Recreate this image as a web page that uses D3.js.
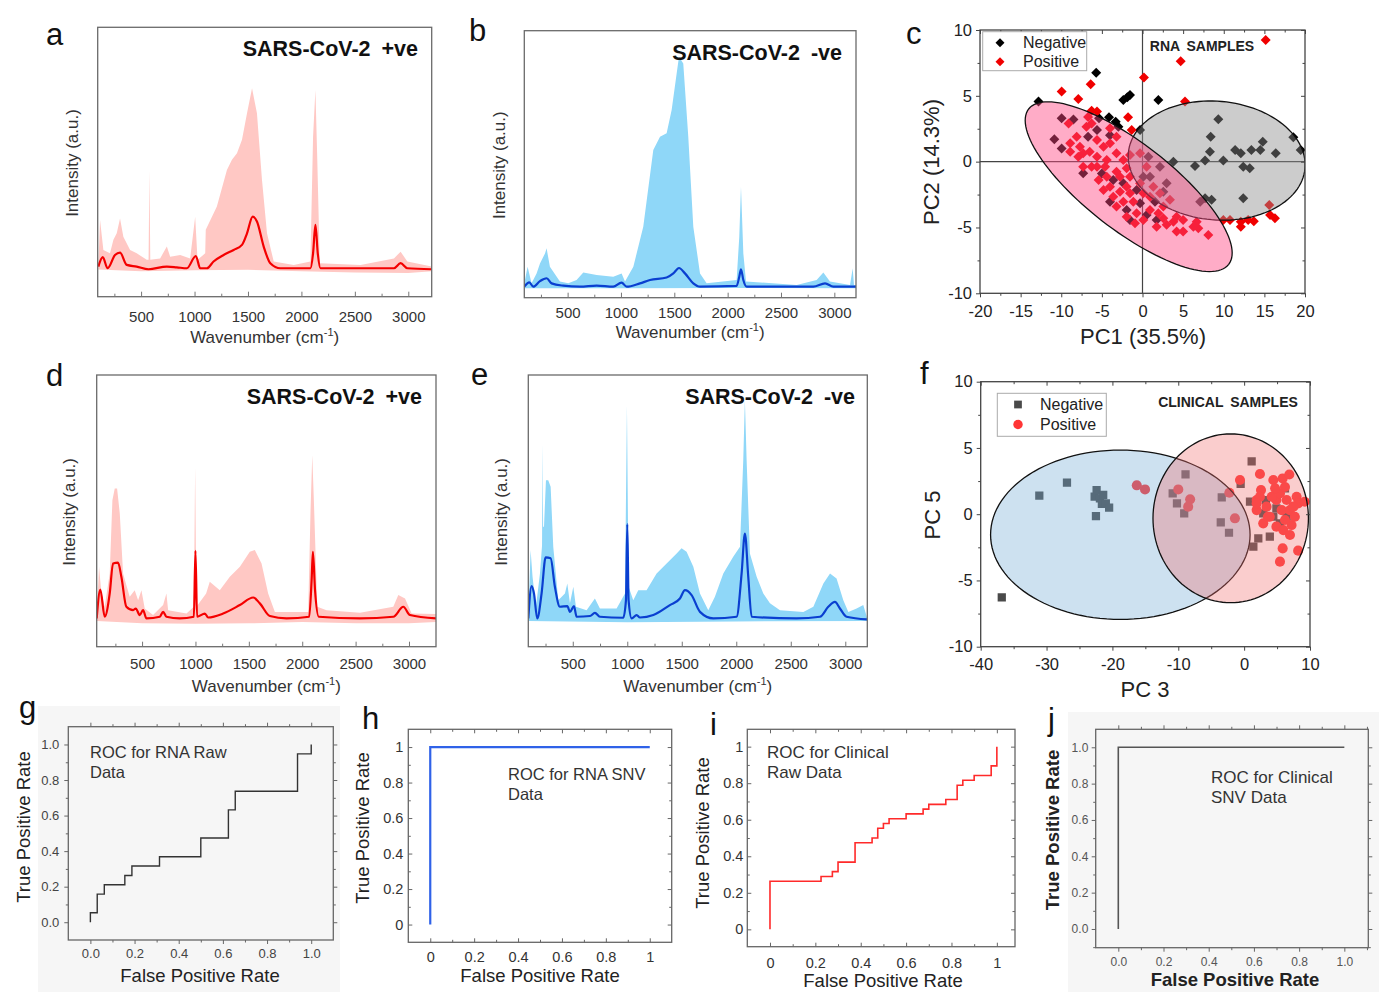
<!DOCTYPE html>
<html><head><meta charset="utf-8">
<script src="https://cdn.jsdelivr.net/npm/d3@7"></script>
<style>body{margin:0;background:#fff}svg{display:block}</style>
</head><body>
<svg id="fig" width="1379" height="992"></svg>
<script>
// ---------------- DATA ----------------
const wnTicks = [500, 1000, 1500, 2000, 2500, 3000];
const wnMinor = [250, 750, 1250, 1750, 2250, 2750];

// Panel a (RNA, SARS-CoV-2 +ve): [wavenumber, intensity]
const specA_mean = [[100,0.7],[141,4.6],[187,0],[256,5.5],[303,6.5],[366,1.4],[459,0.7],[569,-0.4],[741,0.7],[834,0.4],[928,0],[1012,5.1],[1053,0],[1116,0],[1178,2.8],[1272,5.5],[1366,7.6],[1444,9.7],[1491,14.5],[1544,21.4],[1584,19.4],[1647,9.0],[1709,2.1],[1803,0],[2084,0],[2109,6.2],[2131,18],[2153,6.2],[2178,0],[2866,0],[2928,2.1],[2991,0],[3219,-0.4]];
const specA_upper = [[100,0.7],[116,20],[147,7.6],[209,6.2],[241,11.8],[272,14.5],[303,20.7],[334,13.1],[397,7.6],[459,6.2],[553,3.5],[570,3.5],[578,40.8],[586,3.5],[678,4.1],[741,9.0],[772,4.8],[866,5.5],[959,4.1],[1006,21.4],[1028,3.5],[1100,6.2],[1105,16],[1209,25.6],[1303,40.8],[1350,45],[1397,47.7],[1444,53.3],[1491,64.3],[1538,74.7],[1584,64.3],[1631,36.7],[1678,14.5],[1741,2.8],[1928,1.4],[2084,2.8],[2109,54.6],[2131,74],[2147,47.7],[2172,2.1],[2553,1.4],[2866,4.1],[2928,6.9],[2991,2.8],[3219,0.7]];
const specA_lower = [[100,-0.5],[500,-1.2],[1000,-0.8],[1500,-0.6],[2000,-1.2],[2500,-1.8],[3000,-2],[3219,-1.2]];

// Panel b (RNA, SARS-CoV-2 -ve)
const specB_mean = [[94,0],[141,1.7],[178,0],[241,2.2],[303,3.3],[350,1.3],[459,0.4],[616,0],[772,0.4],[928,0],[1006,1.6],[1053,0],[1178,1.3],[1272,2.6],[1428,3.6],[1491,5.2],[1544,7.3],[1600,5.2],[1678,1.3],[1741,0],[2084,0.3],[2109,3.9],[2125,6.8],[2147,2.6],[2178,0],[2803,0],[2913,1.3],[2991,0],[3203,0]];
const specB_upper = [[94,1.3],[125,7.8],[162,1.3],[209,5.2],[241,9.1],[288,13],[303,15],[334,7.8],[428,2],[506,1.3],[584,2.6],[647,5.5],[772,4.6],[928,3.9],[1006,5.2],[1038,2],[1116,7.8],[1209,23.4],[1303,53.4],[1366,58.6],[1428,59.9],[1475,69],[1522,83.3],[1544,89.8],[1584,87.2],[1631,58.6],[1678,23.4],[1741,5.2],[1803,1.3],[2084,2.6],[2109,19.5],[2125,39],[2147,13],[2172,2],[2647,0.7],[2834,2.6],[2897,5.5],[2959,2],[3147,0.7],[3172,7.2],[3184,0.7],[3203,0.7]];
const specB_lower = [[94,-0.6],[1000,-0.6],[2000,-0.5],[3203,-0.6]];

// Panel d (clinical, SARS-CoV-2 +ve)
const specD_mean = [[75,0],[109,11.9],[150,0.7],[197,10.3],[228,22.6],[275,22.9],[306,17.1],[353,4.8],[416,3.4],[441,4.1],[478,1.4],[509,3.4],[541,0],[666,0.7],[697,2.7],[728,0.7],[853,0],[985,0.7],[1000,27.8],[1015,0.7],[1088,2],[1119,0.4],[1259,2],[1416,5.5],[1541,8.6],[1603,6.2],[1697,1],[1853,0],[2065,0.7],[2088,15.8],[2100,27.4],[2120,11.6],[2155,0.7],[2541,0],[2853,0.7],[2947,4.8],[3009,1.4],[3253,0]];
const specD_upper = [[75,0],[97,21.2],[119,10.3],[150,4.8],[197,18.5],[222,48.6],[244,53.4],[266,53.4],[291,43.2],[322,18.5],[384,8.9],[431,11.6],[463,7.5],[494,11.6],[525,4.1],[603,1.4],[697,5.5],[728,10.3],[744,3.4],[916,2],[985,4.8],[997,62.3],[1009,4.8],[1100,10.3],[1134,15.1],[1228,11.6],[1322,17.1],[1416,21.2],[1509,27.4],[1556,28.1],[1619,22.6],[1681,10.3],[1744,2.7],[2056,2.7],[2078,44.5],[2094,67.1],[2109,48.6],[2141,4.8],[2228,3.4],[2541,2.3],[2853,4.8],[2900,9.6],[2963,8.2],[3025,2],[3253,1.8]];
const specD_lower = [[75,-1],[500,-2],[1000,-2.2],[1500,-2],[2000,-1.5],[2500,-2],[3000,-2],[3253,-1.5]];

// Panel e (clinical, SARS-CoV-2 -ve)
const specE_mean = [[92,0],[122,13.3],[144,10.3],[174,0],[214,10.3],[251,25.1],[297,24.7],[336,13],[382,4.8],[450,5.1],[474,2.7],[511,5.1],[535,0.7],[658,1],[703,2.3],[749,0.7],[963,0.3],[988,7.5],[1000,38.8],[1012,7.5],[1040,0],[1086,1.4],[1116,0.4],[1239,1.4],[1391,5.5],[1483,8.2],[1529,11.6],[1590,9.6],[1667,2.7],[1789,0],[2003,0.7],[2049,18.5],[2079,34.9],[2110,17.1],[2141,0.7],[2553,0],[2768,0.7],[2844,4.8],[2905,6.8],[2951,4.1],[3012,0.7],[3202,-0.4]];
const specE_upper = [[92,0],[113,28.1],[131,17.1],[162,4.8],[199,18.5],[218,30],[223,71.9],[228,37.7],[236,37.7],[254,56.8],[275,56.8],[297,54.1],[321,29.5],[367,7.5],[428,10.3],[450,14.4],[474,6.2],[505,13],[529,4.8],[627,3.4],[703,8.2],[749,4.1],[902,4.1],[979,10.3],[997,87.7],[1012,13],[1055,7.5],[1101,11.6],[1177,11.6],[1269,18.5],[1361,22.6],[1453,26.7],[1498,28.8],[1544,27.4],[1606,21.2],[1667,10.3],[1743,3.4],[1804,8.9],[1881,18.5],[1972,25.3],[2034,29.5],[2064,65],[2079,89.7],[2095,65],[2125,26.7],[2187,17.1],[2248,10.3],[2309,6.2],[2401,3.4],[2615,2.7],[2707,4.8],[2799,14.4],[2860,18.5],[2920,16.4],[2982,7.5],[3028,2.7],[3104,4.1],[3165,5.5],[3202,0]];
const specE_lower = [[92,-1],[1000,-1.6],[2000,-1.2],[3202,-1]];

// Panel c: PCA, RNA samples [PC1, PC2]
const pcaC_xTicks = [-20,-15,-10,-5,0,5,10,15,20];
const pcaC_yTicks = [-10,-5,0,5,10];
const pcaC_negative = [[-12.8,4.56],[-5.7,6.76],[-2.36,4.68],[-1.87,4.89],[-1.54,5.06],[1.95,4.68],[-5.35,3.29],[-4.12,3.37],[-3.3,3.04],[-2.97,2.66],[-0.3,2.41],
 [3.8,0],[6.46,-0.33],[7.7,0.08],[8.39,1.9],[8.3,0.76],[9.33,3.22],[9.95,0.08],[11.4,0.89],[12.1,0.63],[12.4,-0.38],[13.4,0.89],[13.2,-0.5],[14.5,0.89],[14.8,1.52],[16.4,0.63],[18.56,1.85],[19.47,0.89],[7.7,-2.78],[8.5,-2.9],[12.4,-2.78],[7.1,-3.04],
 [-9.95,3.29],[-8.5,3.2],[-10.85,1.7],[-9.95,1.0],[-6.7,1.9],[-5.6,2.4],[-4.0,2.0],[-5.0,-0.9],[-3.6,-1.4],[-2.36,-1.65],[-4.0,-3.04],[-1.95,-3.67],[-0.72,-2.15],[-0.3,-3.16],[0.72,0.38],[0.92,-1.14],[2.15,-0.38],[2.97,-1.65],[2.56,-2.28],[1.54,-3.04],[0.51,-4.05],[1.74,-4.43],[-7.3,-0.89],[-1.54,-4.43],[0.1,-1.14]];
const pcaC_positive = [[-9.95,5.32],[-7.9,4.76],[-6.38,5.87],[-6.26,3.87],[-1.78,3.37],[-1.33,2.41],[0.18,6.4],[4.7,7.62],[5.23,4.56],[15.16,9.24],[9.95,-4.43],[10.77,-4.43],[12.1,-4.56],[12.1,-4.94],[13.7,-4.53],[15.6,-3.3],[15.7,-4.05],[16.3,-4.3],[13.0,-4.43],
 [-9.1,2.9],[-8.1,1.9],[-8.9,1.4],[-7.7,1.14],[-6.9,2.66],[-6.26,2.9],[-5.6,1.65],[-7.3,0.63],[-7.9,0.38],[-6.5,0.76],[-5.6,0.38],[-4.8,1.14],[-4.0,1.4],[-7.3,-0.38],[-6.26,-0.38],[-4.4,0.13],[-3.2,0.63],[-2.36,0.13],[-1.95,-0.5],[-5.4,-1.4],[-4.4,-1.14],[-3.2,-0.76],[-1.54,-1.14],[-4.0,-1.9],[-2.77,-2.28],[-1.54,-2.4],[-3.6,-2.66],[-2.36,-3.04],[-1.13,-3.04],[-3.2,-3.4],[-1.95,-4.18],[-0.72,-3.92],[0.1,-4.43],[0.92,-3.67],[1.95,-3.92],[2.56,-4.3],[2.97,-4.8],[3.8,-4.56],[4.2,-5.3],[5.0,-5.3],[5.0,-4.43],[6.26,-4.94],[6.67,-4.56],[6.87,-5.06],[8.1,-5.57],[-1.54,0.5],[-0.3,0.63],[0.51,-0.38],[1.33,-1.9],[2.15,-2.4],[3.38,-2.9],[0.92,-2.66],[0.1,-2.4],[-0.3,-1.65],[-4.8,-2.15],[-5.6,-0.38],[-8.9,0.76],[-6.7,3.4],[-5.6,3.8],[-4.0,2.53],[-3.2,1.9],[-4.6,-0.38],[-2.77,-1.14],[-1.95,-1.9],[1.74,-4.94],[-0.92,-4.68],[2.56,-3.4],[4.2,-4.18]];
// confidence ellipses: [cx, cy, ux, uy, vx, vy] (centre + semi-axis vectors, data units)
const pcaC_ellNegative = [9.13, 0.08, 10.87, -0.59, 0.64, 4.49];
const pcaC_ellPositive = [-1.7, -1.9, 12.31, -5.90, 3.27, 2.60];

// Panel f: PCA, clinical samples [PC3, PC5]
const pcaF_xTicks = [-40,-30,-20,-10,0,10];
const pcaF_yTicks = [-10,-5,0,5,10];
const pcaF_negative = [[-36.8,-6.28],[-31.1,1.4],[-26.9,2.38],[-22.4,1.82],[-22.7,1.32],[-21.9,1.19],[-21.6,0.77],[-21.0,0.82],[-20.5,0.49],[-22.5,-0.14],[-21.4,1.45],[-8.9,3.0],[-10.85,1.57],[-10.2,0.82],[-9.1,0.06],[-3.4,1.27],[-3.55,-0.62],[-2.3,-1.4],[-0.53,2.28],[1.14,3.99],[0.89,0.94],[1.4,-2.45],[2.15,-1.82],[3.9,-1.7],[3.3,1.07],[4.9,0.44],[6.2,1.95],[5.44,-0.69],[4.43,-0.19],[6.46,-0.19],[2.9,0.06]];
const pcaF_positive = [[-16.3,2.18],[-15.05,1.87],[-10.0,1.87],[-8.2,1.12],[-8.5,0.57],[-1.4,-0.31],[-2.25,1.62],[-0.63,2.58],[2.4,3.03],[2.56,1.82],[4.43,2.58],[5.85,2.7],[6.86,3.0],[1.9,1.07],[3.4,0.57],[1.9,0.31],[2.9,-0.69],[3.9,-0.19],[4.9,1.07],[5.44,1.57],[6.46,1.07],[5.7,0.31],[6.96,0.31],[4.9,-0.94],[5.95,-1.2],[7.2,-0.82],[7.7,-0.19],[7.97,1.32],[8.2,0.82],[9.2,0.94],[6.96,-1.57],[5.85,-2.58],[5.44,-3.58],[8.2,-2.75],[4.18,1.32],[2.4,1.32],[6.2,2.05],[4.7,1.95],[3.6,-0.19],[6.2,-0.44],[7.47,0.57],[1.9,0.82]];
const pcaF_ellNegative = [-18.8, -1.55, 19.7, 0, 0, 6.39];
const pcaF_ellPositive = [-2.04, -0.31, 11.8, 0, 0, 6.37];

// ROC curves [FPR, TPR]
const rocTicks = [0, 0.2, 0.4, 0.6, 0.8, 1.0];
const rocMinor = [-0.1, 0.1, 0.3, 0.5, 0.7, 0.9, 1.1];
const rocG = [[0,0],[0,0.053],[0.031,0.158],[0.063,0.211],[0.156,0.263],[0.188,0.316],[0.313,0.368],[0.5,0.474],[0.625,0.632],[0.656,0.737],[0.938,0.947],[1,1]];
const rocH = [[0,0],[0,1],[1,1]];
const rocI = [[0,0],[0,0.263],[0.225,0.289],[0.275,0.316],[0.3,0.368],[0.375,0.474],[0.45,0.5],[0.475,0.553],[0.5,0.579],[0.525,0.605],[0.6,0.632],[0.675,0.658],[0.7,0.684],[0.775,0.711],[0.825,0.789],[0.85,0.816],[0.9,0.842],[0.975,0.895],[1,1]];
const rocJ = [[0,0],[0,1],[1,1]];

// ---------------- DRAWING ----------------
const FONT = "Arial, 'Liberation Sans', Helvetica, sans-serif";
const svg = d3.select("#fig").attr("font-family", FONT);
const defs = svg.append("defs");
const intFmt = v => String(v);   // plain hyphen-minus like the reference

function ax(g, orient, scale, vals, tx, ty, o) {
  const mk = {b: d3.axisBottom, l: d3.axisLeft, t: d3.axisTop, r: d3.axisRight}[orient];
  const gen = mk(scale).tickValues(vals).tickSize(o.size || 0).tickPadding(o.pad || 0).tickFormat(o.fmt || "");
  const a = g.append("g").attr("transform", `translate(${tx},${ty})`).call(gen);
  a.select(".domain").remove();
  a.attr("font-family", FONT);
  a.selectAll(".tick line").attr("stroke", o.tc || "#555").attr("stroke-width", o.sw || 1);
  a.selectAll(".tick text").attr("font-size", o.fs || 14).attr("fill", o.color || "#222")
    .attr("font-weight", o.weight || "normal").attr("font-family", FONT);
  return a;
}
function letter(t, x, y) {
  svg.append("text").attr("x", x).attr("y", y).attr("font-size", 31).attr("fill", "#111").text(t);
}
function clipRect(id, x0, y0, x1, y1) {
  defs.append("clipPath").attr("id", id).append("rect").attr("x", x0).attr("y", y0).attr("width", x1 - x0).attr("height", y1 - y0);
  return `url(#${id})`;
}

function spectrum(p) {
  const x = d3.scaleLinear().domain(p.xDom).range([p.x0, p.x1]);
  const y = d3.scaleLinear().domain(p.yDom).range([p.y1, p.y0]);
  const g = svg.append("g");
  const inner = g.append("g").attr("clip-path", clipRect("clip" + p.id, p.x0, p.y0, p.x1, p.y1));
  const lin = d3.line().x(d => x(d[0])).y(d => y(d[1]));
  inner.append("path").attr("d", lin(p.upper.concat(p.lower.slice().reverse())) + "Z").attr("fill", p.fill);
  const smooth = d3.line().curve(d3.curveMonotoneX).x(d => x(d[0])).y(d => y(d[1]));
  inner.append("path").attr("d", smooth(p.mean)).attr("fill", "none").attr("stroke", p.line).attr("stroke-width", 2.2).attr("stroke-linejoin", "round");
  g.append("rect").attr("x", p.x0).attr("y", p.y0).attr("width", p.x1 - p.x0).attr("height", p.y1 - p.y0)
    .attr("fill", "none").attr("stroke", "#6a6a6a").attr("stroke-width", 1.3);
  ax(g, "b", x, wnTicks, 0, p.y1, {size: -5, pad: p.pad, fmt: intFmt, fs: 15, color: "#333", tc: "#777"});
  ax(g, "b", x, wnMinor.filter(v => v > p.xDom[0] && v < p.xDom[1]), 0, p.y1, {size: -3, tc: "#777"});
  g.append("text").attr("x", p.tx).attr("y", p.ty).attr("text-anchor", "end").attr("font-weight", "bold")
    .attr("font-size", 21.5).attr("word-spacing", 5).attr("fill", "#111").text(p.title);
  g.append("text").attr("transform", `translate(${p.ylx},${(p.y0 + p.y1) / 2 + 1}) rotate(-90)`).attr("text-anchor", "middle")
    .attr("font-size", 17).attr("fill", "#333").text("Intensity (a.u.)");
  const xt = g.append("text").attr("x", (p.x0 + p.x1) / 2).attr("y", p.xly).attr("text-anchor", "middle").attr("font-size", 17).attr("fill", "#333");
  xt.append("tspan").text("Wavenumber (cm");
  xt.append("tspan").attr("font-size", 11).attr("dy", -7).text("-1");
  xt.append("tspan").attr("dy", 7).text(")");
  letter(p.lab, p.lx, p.ly);
}

spectrum({id: "a", x0: 97.7, x1: 431.7, y0: 27.3, y1: 296.7, xDom: [94, 3219], yDom: [-11.8, 100],
  upper: specA_upper, lower: specA_lower, mean: specA_mean, fill: "#ffc8c4", line: "#f40000",
  title: "SARS-CoV-2 +ve", tx: 418, ty: 56, ylx: 78, xly: 343, pad: 14.5, lab: "a", lx: 46, ly: 45});
spectrum({id: "b", x0: 524.3, x1: 856, y0: 30.7, y1: 297.7, xDom: [94, 3203], yDom: [-4.3, 100],
  upper: specB_upper, lower: specB_lower, mean: specB_mean, fill: "#8fd7f8", line: "#0a3fd0",
  title: "SARS-CoV-2 -ve", tx: 842, ty: 60, ylx: 505, xly: 338, pad: 10, lab: "b", lx: 469, ly: 41});
spectrum({id: "d", x0: 96.7, x1: 436, y0: 375, y1: 646.7, xDom: [75, 3253], yDom: [-11.6, 100],
  upper: specD_upper, lower: specD_lower, mean: specD_mean, fill: "#ffc8c4", line: "#f40000",
  title: "SARS-CoV-2 +ve", tx: 422, ty: 404, ylx: 75, xly: 692, pad: 11.7, lab: "d", lx: 46, ly: 386});
spectrum({id: "e", x0: 528.3, x1: 867.3, y0: 375, y1: 646.7, xDom: [92, 3202], yDom: [-11.6, 100],
  upper: specE_upper, lower: specE_lower, mean: specE_mean, fill: "#8fd7f8", line: "#0a3fd0",
  title: "SARS-CoV-2 -ve", tx: 855, ty: 404, ylx: 507, xly: 692, pad: 11.7, lab: "e", lx: 471, ly: 385});

function ellipsePts(e) {
  return d3.range(120).map(i => { const t = 2 * Math.PI * i / 120;
    return [e[0] + Math.cos(t) * e[2] + Math.sin(t) * e[4], e[1] + Math.cos(t) * e[3] + Math.sin(t) * e[5]]; });
}

function pca(p) {
  const x = d3.scaleLinear().domain(p.xDom).range([p.x0, p.x1]);
  const y = d3.scaleLinear().domain(p.yDom).range([p.y1, p.y0]);
  const g = svg.append("g");
  const inner = g.append("g").attr("clip-path", clipRect("clip" + p.id, p.x0, p.y0, p.x1, p.y1));
  if (p.zero) {
    inner.append("line").attr("x1", x(0)).attr("x2", x(0)).attr("y1", p.y0).attr("y2", p.y1).attr("stroke", "#444").attr("stroke-width", 1.2);
    inner.append("line").attr("y1", y(0)).attr("y2", y(0)).attr("x1", p.x0).attr("x2", p.x1).attr("stroke", "#444").attr("stroke-width", 1.2);
  }
  const sym = (type, size) => d3.symbol().type(type).size(size)();
  inner.selectAll(".neg").data(p.neg).join("path").attr("d", sym(p.negSym, p.negSize))
    .attr("transform", d => `translate(${x(d[0])},${y(d[1])})${p.rot ? " rotate(45)" : ""}`).attr("fill", p.negColor);
  inner.selectAll(".pos").data(p.pos).join("path").attr("d", sym(p.posSym, p.posSize))
    .attr("transform", d => `translate(${x(d[0])},${y(d[1])})${p.rot ? " rotate(45)" : ""}`).attr("fill", p.posColor);
  const el = d3.line().curve(d3.curveLinearClosed).x(d => x(d[0])).y(d => y(d[1]));
  inner.append("path").attr("d", el(ellipsePts(p.ellNeg))).attr("fill", p.ellNegFill).attr("fill-opacity", p.op)
    .attr("stroke", "#111").attr("stroke-width", 1.3);
  inner.append("path").attr("d", el(ellipsePts(p.ellPos))).attr("fill", p.ellPosFill).attr("fill-opacity", p.op)
    .attr("stroke", "#111").attr("stroke-width", 1.3);
  g.append("rect").attr("x", p.x0).attr("y", p.y0).attr("width", p.x1 - p.x0).attr("height", p.y1 - p.y0)
    .attr("fill", "none").attr("stroke", "#444").attr("stroke-width", 1.3);
  ax(g, "b", x, p.xTicks, 0, p.y1, {size: 4, pad: p.padB, fmt: intFmt, fs: 16.5, color: "#222", tc: "#444"});
  ax(g, "b", x, p.xMinor, 0, p.y1, {size: 2.5, tc: "#444"});
  ax(g, "t", x, p.xTicks, 0, p.y0, {size: -4, tc: "#444"});
  ax(g, "t", x, p.xMinor, 0, p.y0, {size: -2.5, tc: "#444"});
  ax(g, "l", y, p.yTicks, p.x0, 0, {size: 4, pad: p.padL, fmt: intFmt, fs: 16.5, color: "#222", tc: "#444"});
  ax(g, "l", y, p.yMinor, p.x0, 0, {size: 2.5, tc: "#444"});
  ax(g, "r", y, p.yTicks, p.x1, 0, {size: -4, tc: "#444"});
  ax(g, "r", y, p.yMinor, p.x1, 0, {size: -2.5, tc: "#444"});
  g.append("text").attr("x", p.xlx).attr("y", p.xly).attr("text-anchor", "middle").attr("font-size", 22).attr("fill", "#222").text(p.xLabel);
  g.append("text").attr("transform", `translate(${p.ylx},${p.yly}) rotate(-90)`).attr("text-anchor", "middle")
    .attr("font-size", 22).attr("fill", "#222").text(p.yLabel);
  // legend
  const L = p.leg;
  g.append("rect").attr("x", L.x).attr("y", L.y).attr("width", L.w).attr("height", L.h).attr("fill", "#fff").attr("stroke", "#aaa").attr("stroke-width", 1);
  g.append("path").attr("d", sym(p.negSym, p.legNegSize)).attr("transform", `translate(${L.mx},${L.y1})${p.rot ? " rotate(45)" : ""}`).attr("fill", p.negColor);
  g.append("path").attr("d", sym(p.posSym, p.legPosSize)).attr("transform", `translate(${L.mx},${L.y2})${p.rot ? " rotate(45)" : ""}`).attr("fill", p.posColor);
  g.append("text").attr("x", L.tx).attr("y", L.y1 + 5.5).attr("font-size", 16).attr("fill", "#222").text("Negative");
  g.append("text").attr("x", L.tx).attr("y", L.y2 + 5.5).attr("font-size", 16).attr("fill", "#222").text("Positive");
  g.append("text").attr("x", p.capx).attr("y", p.capy).attr("text-anchor", "middle").attr("font-weight", "bold")
    .attr("font-size", 14).attr("word-spacing", 3).attr("fill", "#222").text(p.caption);
  letter(p.lab, p.lx, p.ly);
}

pca({id: "c", x0: 980, x1: 1305, y0: 30, y1: 293.3, xDom: [-20, 20], yDom: [-10, 10], zero: true,
  xTicks: pcaC_xTicks, xMinor: [-17.5,-12.5,-7.5,-2.5,2.5,7.5,12.5,17.5], yTicks: pcaC_yTicks, yMinor: [-7.5,-2.5,2.5,7.5],
  neg: pcaC_negative, pos: pcaC_positive, negSym: d3.symbolSquare, posSym: d3.symbolSquare, negSize: 50, posSize: 50, rot: true,
  legNegSize: 40, legPosSize: 40,
  negColor: "#000", posColor: "#f00000", ellNeg: pcaC_ellNegative, ellPos: pcaC_ellPositive,
  ellNegFill: "#8f8f8f", ellPosFill: "#ff4682", op: 0.45, padB: 8, padL: 4,
  xLabel: "PC1 (35.5%)", xlx: 1143, xly: 344, yLabel: "PC2 (14.3%)", ylx: 939, yly: 162,
  leg: {x: 982.7, y: 31.7, w: 104, h: 39, mx: 1000, y1: 42.7, y2: 61.7, tx: 1023},
  caption: "RNA SAMPLES", capx: 1202, capy: 51, lab: "c", lx: 906, ly: 44});

pca({id: "f", x0: 980.7, x1: 1310, y0: 381.7, y1: 646.7, xDom: [-40, 10], yDom: [-10, 10], zero: false,
  xTicks: pcaF_xTicks, xMinor: [-35,-25,-15,-5,5], yTicks: pcaF_yTicks, yMinor: [-7.5,-2.5,2.5,7.5],
  neg: pcaF_negative, pos: pcaF_positive, negSym: d3.symbolSquare, posSym: d3.symbolCircle, negSize: 68, posSize: 80, rot: false,
  legNegSize: 60, legPosSize: 70,
  negColor: "#4a4a4a", posColor: "#ff3535", ellNeg: pcaF_ellNegative, ellPos: pcaF_ellPositive,
  ellNegFill: "#6fa8d4", ellPosFill: "#f17070", op: 0.35, padB: 8, padL: 4,
  xLabel: "PC 3", xlx: 1145, xly: 697, yLabel: "PC 5", ylx: 940, yly: 515,
  leg: {x: 997.3, y: 393.3, w: 109, h: 43, mx: 1018, y1: 404.5, y2: 424.5, tx: 1040},
  caption: "CLINICAL SAMPLES", capx: 1228, capy: 407, lab: "f", lx: 920, ly: 384});

function roc(p) {
  const x = d3.scaleLinear().domain(p.xDom).range([p.x0, p.x1]);
  const y = d3.scaleLinear().domain(p.yDom).range([p.y1, p.y0]);
  const g = svg.append("g");
  if (p.bg) g.append("rect").attr("x", p.bg[0]).attr("y", p.bg[1]).attr("width", p.bg[2]).attr("height", p.bg[3]).attr("fill", "#f6f6f6");
  const s = p.out ? 1 : -1;
  const minor = rocMinor.filter(v => v > p.xDom[0] && v < p.xDom[1]);
  const minorY = rocMinor.filter(v => v > p.yDom[0] && v < p.yDom[1]);
  ax(g, "b", x, rocTicks, 0, p.y1, {size: 4 * s, tc: "#666"});
  ax(g, "b", x, minor, 0, p.y1, {size: 2.5 * s, tc: "#666"});
  ax(g, "t", x, rocTicks, 0, p.y0, {size: 4 * s, tc: "#666"});
  ax(g, "t", x, minor, 0, p.y0, {size: 2.5 * s, tc: "#666"});
  ax(g, "l", y, rocTicks, p.x0, 0, {size: 4 * s, tc: "#666"});
  ax(g, "l", y, minorY, p.x0, 0, {size: 2.5 * s, tc: "#666"});
  ax(g, "r", y, rocTicks, p.x1, 0, {size: 4 * s, tc: "#666"});
  ax(g, "r", y, minorY, p.x1, 0, {size: 2.5 * s, tc: "#666"});
  ax(g, "b", x, rocTicks, 0, p.y1, {size: 0, pad: p.padB, fmt: p.fmt, fs: p.fs, color: p.tcol});
  ax(g, "l", y, rocTicks, p.x0, 0, {size: 0, pad: p.padL, fmt: p.fmt, fs: p.fs, color: p.tcol});
  g.append("rect").attr("x", p.x0).attr("y", p.y0).attr("width", p.x1 - p.x0).attr("height", p.y1 - p.y0)
    .attr("fill", "none").attr("stroke", "#666").attr("stroke-width", 1.3);
  const line = d3.line().curve(p.step ? d3.curveStepAfter : d3.curveLinear).x(d => x(d[0])).y(d => y(d[1]));
  g.append("path").attr("d", line(p.data)).attr("fill", "none").attr("stroke", p.color).attr("stroke-width", p.lw);
  p.note.forEach((t, i) => g.append("text").attr("x", p.nx).attr("y", p.ny + i * 20).attr("font-size", p.nfs).attr("fill", "#333").text(t));
  g.append("text").attr("x", p.xlx).attr("y", p.xly).attr("text-anchor", "middle").attr("font-size", p.tfs)
    .attr("font-weight", p.bold ? "bold" : "normal").attr("fill", "#222").text("False Positive Rate");
  g.append("text").attr("transform", `translate(${p.ylx},${p.yly}) rotate(-90)`).attr("text-anchor", "middle")
    .attr("font-size", p.tfs).attr("font-weight", p.bold ? "bold" : "normal").attr("fill", "#222").text("True Positive Rate");
  letter(p.lab, p.lx, p.ly);
}
const f1 = d3.format(".1f");
const fShort = v => String(+v.toFixed(1));

roc({x0: 68.3, x1: 333.3, y0: 726.7, y1: 940, xDom: [-0.1, 1.1], yDom: [-0.1, 1.1], out: true, bg: [38, 706, 302, 286],
  fmt: f1, fs: 13, tcol: "#444", padB: 8.8, padL: 9, data: rocG, step: true, color: "#333", lw: 1.4,
  note: ["ROC for RNA Raw", "Data"], nx: 90, ny: 758, nfs: 16.5, tfs: 18.5, bold: false,
  xlx: 200, xly: 982, ylx: 30, yly: 827, lab: "g", lx: 19, ly: 718});
roc({x0: 408.3, x1: 671.7, y0: 729.3, y1: 942.3, xDom: [-0.1, 1.1], yDom: [-0.1, 1.1], out: false,
  fmt: fShort, fs: 14.5, tcol: "#333", padB: 9.4, padL: 5, data: rocH, step: false, color: "#2f62e8", lw: 2.2,
  note: ["ROC for RNA SNV", "Data"], nx: 508, ny: 780, nfs: 16.5, tfs: 18.5, bold: false,
  xlx: 540, xly: 982, ylx: 369, yly: 828, lab: "h", lx: 362, ly: 729});
roc({x0: 747.3, x1: 1015, y0: 729.3, y1: 946.7, xDom: [-0.1, 1.08], yDom: [-0.095, 1.095], out: false,
  fmt: fShort, fs: 14.5, tcol: "#333", padB: 11, padL: 4, data: rocI, step: true, color: "#ff2a2a", lw: 1.6,
  note: ["ROC for Clinical", "Raw Data"], nx: 767, ny: 758, nfs: 17, tfs: 18.5, bold: false,
  xlx: 883, xly: 987, ylx: 709, yly: 833, lab: "i", lx: 710, ly: 735});
roc({x0: 1095.7, x1: 1368.3, y0: 729.3, y1: 947.7, xDom: [-0.1, 1.106], yDom: [-0.103, 1.099], out: true, bg: [1068, 712, 311, 280],
  fmt: f1, fs: 12, tcol: "#555", padB: 9.8, padL: 7.4, data: rocJ, step: false, color: "#555", lw: 1.6,
  note: ["ROC for Clinical", "SNV Data"], nx: 1211, ny: 783, nfs: 17, tfs: 18.5, bold: true,
  xlx: 1235, xly: 986, ylx: 1059, yly: 830, lab: "j", lx: 1048, ly: 730});
</script>
</body></html>
